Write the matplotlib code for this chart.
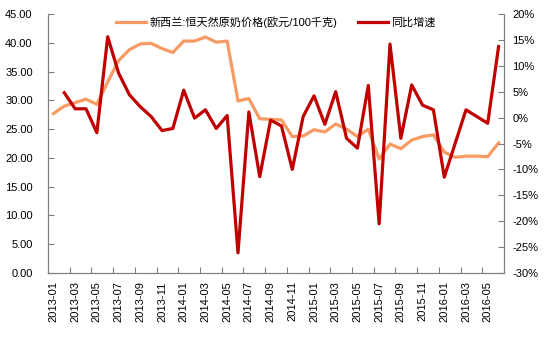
import matplotlib
matplotlib.use('agg')
import matplotlib.pyplot as plt
from matplotlib.ticker import FuncFormatter

plt.rcParams['font.family'] = ['Liberation Sans', 'Noto Sans CJK SC', 'DejaVu Sans']

months = [f"{y}-{m:02d}" for y in (2013, 2014, 2015, 2016) for m in range(1, 13)][:42]

price = [27.7, 29.0, 29.6, 30.2, 29.3, 33.2, 36.9, 38.8, 39.8, 39.9, 39.0, 38.3,
         40.3, 40.3, 41.0, 40.1, 40.3, 29.9, 30.3, 26.8, 26.7, 26.6, 23.7, 23.8,
         24.9, 24.5, 25.9, 25.0, 23.7, 25.0, 19.8, 22.4, 21.6, 23.1, 23.7, 24.0,
         21.0, 20.1, 20.3, 20.3, 20.2, 22.6]

# YoY growth in %, first month has no value
yoy = [None, 4.8, 1.7, 1.7, -2.9, 15.6, 8.6, 4.4, 2.1, 0.2, -2.5, -2.1,
       5.3, -0.1, 1.5, -2.1, 0.4, -26.1, 1.1, -11.4, -0.5, -1.6, -10.0, 0.2,
       4.2, -1.3, 5.0, -4.0, -5.9, 6.2, -20.5, 14.2, -4.0, 6.3, 2.4, 1.5,
       -11.5, -5.0, 1.5, 0.2, -1.1, 13.7]

x = list(range(len(months)))
xr = [i for i in x if yoy[i] is not None]
yr = [yoy[i] for i in xr]

fig = plt.figure(figsize=(5.5, 3.39), dpi=100)
ax = fig.add_axes([48/550, 1 - 273/339, 456/550, 259/339])
ax2 = ax.twinx()

l1, = ax.plot(x, price, color='#F79A64', lw=2.3, label='新西兰:恒天然原奶价格(欧元/100千克)')
l2, = ax2.plot(xr, yr, color='#C00000', lw=2.3, label='同比增速')

ax.set_ylim(0, 45)
ax.set_yticks(range(0, 46, 5))
ax.yaxis.set_major_formatter(FuncFormatter(lambda v, p: f"{v:.2f}"))
ax2.set_ylim(-30, 20)
ax2.set_yticks(range(-30, 21, 5))
ax2.yaxis.set_major_formatter(FuncFormatter(lambda v, p: f"{int(v)}%"))

ax.set_xlim(-0.5, len(months) - 0.5)
ax.set_xticks([i - 0.5 for i in range(0, len(months) + 1, 2)])
ax.set_xticklabels([])
ax.set_xticks(x[::2], minor=True)
ax.set_xticklabels(months[::2], minor=True, rotation=90)
ax.tick_params(axis='x', which='minor', length=0, pad=6)
ax.tick_params(axis='x', which='major', direction='in', length=4, color='#808080')

for a in (ax, ax2):
    a.spines['top'].set_visible(False)
    for s in ('left', 'right', 'bottom'):
        a.spines[s].set_color('#808080')
    a.tick_params(axis='y', direction='in', length=4, color='#808080', labelsize=8)
    a.tick_params(axis='x', which='both', labelsize=8)
ax.tick_params(axis='y', pad=11)
ax2.tick_params(axis='y', pad=6)

ax.legend(handles=[l1, l2], loc='upper center', bbox_to_anchor=(0.50, 1.03), ncol=2,
          frameon=False, fontsize=8, handlelength=2.7, columnspacing=1.9, handletextpad=0.25)

fig.savefig('out.png', dpi=100)
